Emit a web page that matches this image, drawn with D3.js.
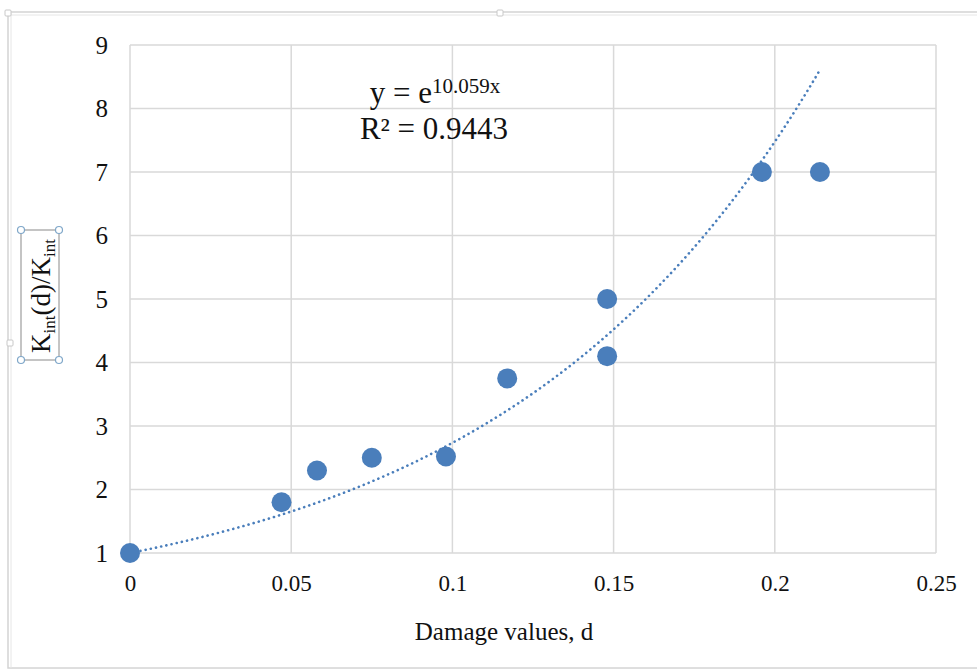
<!DOCTYPE html>
<html>
<head>
<meta charset="UTF-8">
<title>Damage values</title>
<script src="https://d3js.org/d3.v7.min.js"></script>
<style>
  body { margin: 0; background: #fff; }
  text { font-family: "Liberation Serif", "Times New Roman", serif; fill: #111; }
  .grid line { stroke: #d9d9d9; stroke-width: 1.5; }
</style>
</head>
<body>
<svg id="chart" width="977" height="671"></svg>
<script>
// data
const damage = [0, 0.047, 0.058, 0.075, 0.098, 0.117, 0.148, 0.148, 0.196, 0.214];
const ratio  = [1, 1.8, 2.3, 2.5, 2.52, 3.75, 5.0, 4.1, 7.0, 7.0];
const xTicks = [0, 0.05, 0.1, 0.15, 0.2, 0.25];
const yTicks = [1, 2, 3, 4, 5, 6, 7, 8, 9];
const fitCoef = 10.059;   // y = e^(10.059x)
const rSquared = "0.9443";

const svg = d3.select("#chart");
const blue = "#4a7ebb";

const x = d3.scaleLinear().domain([0, 0.25]).range([130, 936]);
const y = d3.scaleLinear().domain([1, 9]).range([553, 45]);

// outer chart frame
svg.append("rect").attr("x", 8).attr("y", 12).attr("width", 990).attr("height", 656)
  .attr("fill", "none").attr("stroke", "#d4d4d4").attr("stroke-width", 1.5);
svg.append("line").attr("x1", 8).attr("x2", 977).attr("y1", 15).attr("y2", 15)
  .attr("stroke", "#e6e6e6").attr("stroke-width", 1);
svg.append("line").attr("x1", 11).attr("x2", 11).attr("y1", 12).attr("y2", 668)
  .attr("stroke", "#e6e6e6").attr("stroke-width", 1);
// frame handles
[[8, 13], [500, 13], [10, 343]].forEach(p => {
  svg.append("rect").attr("x", p[0] - 3).attr("y", p[1] - 3).attr("width", 6).attr("height", 6)
    .attr("rx", 1).attr("fill", "#fff").attr("stroke", "#c8c8c8");
});

// gridlines
const grid = svg.append("g").attr("class", "grid");
grid.selectAll("line.h").data(yTicks).join("line").attr("class", "h")
  .attr("x1", x(0)).attr("x2", x(0.25)).attr("y1", d => y(d)).attr("y2", d => y(d));
grid.selectAll("line.v").data(xTicks).join("line").attr("class", "v")
  .attr("x1", d => x(d)).attr("x2", d => x(d)).attr("y1", y(1)).attr("y2", y(9));

// tick labels via axes without lines
const xAxis = svg.append("g").attr("transform", `translate(0,${y(1)})`)
  .call(d3.axisBottom(x).tickValues(xTicks).tickSize(0).tickPadding(22).tickFormat(d => String(d)));
xAxis.select(".domain").remove();
xAxis.selectAll("text").style("font-size", "23px").attr("fill", "#111");

const yAxis = svg.append("g").attr("transform", `translate(${x(0)},0)`)
  .call(d3.axisLeft(y).tickValues(yTicks).tickSize(0).tickPadding(22).tickFormat(d3.format("d")));
yAxis.select(".domain").remove();
yAxis.selectAll("text").style("font-size", "25px").attr("fill", "#111");

// trendline
const fit = d3.range(0, 0.2141, 0.002).map(v => [v, Math.exp(fitCoef * v)]);
svg.append("path").datum(fit)
  .attr("fill", "none").attr("stroke", blue).attr("stroke-width", 2.6)
  .attr("stroke-linecap", "round").attr("stroke-dasharray", "0.1 5.2")
  .attr("d", d3.line().x(d => x(d[0])).y(d => y(d[1])));

// points
svg.append("g").selectAll("circle").data(damage).join("circle")
  .attr("cx", d => x(d)).attr("cy", (d, i) => y(ratio[i]))
  .attr("r", 10).attr("fill", blue);

// equation
const eq = svg.append("text").attr("x", 435).attr("y", 103).attr("text-anchor", "middle")
  .style("font-size", "31px");
eq.append("tspan").text("y = e");
eq.append("tspan").attr("dy", -10).style("font-size", "21px").text("10.059x");
svg.append("text").attr("x", 434).attr("y", 139).attr("text-anchor", "middle")
  .style("font-size", "31px").text("R² = " + rSquared);

// x axis title
svg.append("text").attr("x", 504).attr("y", 640).attr("text-anchor", "middle")
  .style("font-size", "25px").text("Damage values, d");

// y axis title in selection box
svg.append("rect").attr("x", 21).attr("y", 230).attr("width", 38).attr("height", 130)
  .attr("fill", "none").attr("stroke", "#8a8a8a").attr("stroke-width", 1);
[[21, 230], [59, 230], [21, 360], [59, 360]].forEach(p => {
  svg.append("circle").attr("cx", p[0]).attr("cy", p[1]).attr("r", 3.5)
    .attr("fill", "#fff").attr("stroke", "#7fa7c9").attr("stroke-width", 1.2);
});
const yt = svg.append("text").attr("transform", "translate(50,296) rotate(-90)")
  .attr("text-anchor", "middle").style("font-size", "27px");
yt.append("tspan").text("K");
yt.append("tspan").attr("dy", 5).style("font-size", "17px").text("int");
yt.append("tspan").attr("dy", -5).text("(d)/K");
yt.append("tspan").attr("dy", 5).style("font-size", "17px").text("int");
</script>
</body>
</html>
